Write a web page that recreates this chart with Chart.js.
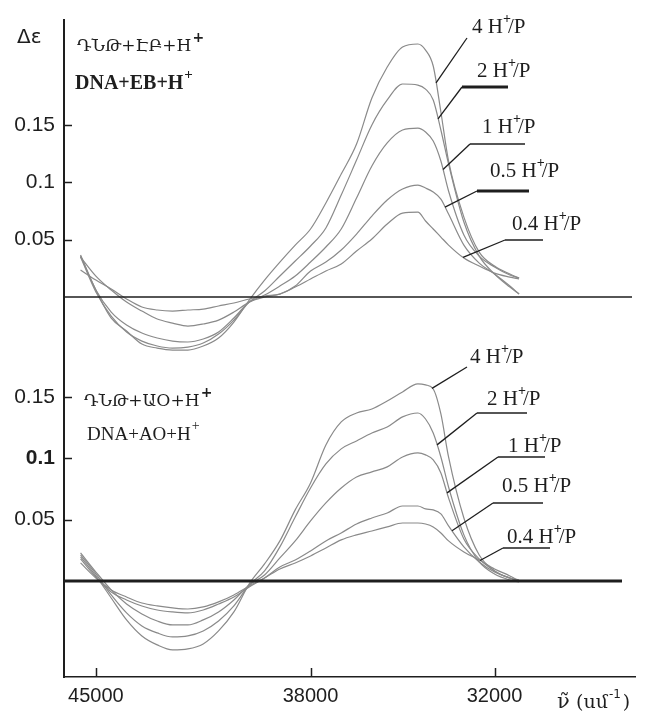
<!DOCTYPE html>
<html>
<head>
<meta charset="utf-8">
<script src="https://cdn.jsdelivr.net/npm/chart.js@4.4.1/dist/chart.umd.min.js"></script>
<style>
  body { margin: 0; background: #fff; }
  #wrap { position: relative; width: 656px; height: 713px; background: #fff; }
  canvas { position: absolute; left: 0; }
  #ebChart { top: 0; }
  #aoChart { top: 330px; }
</style>
</head>
<body>
<div id="wrap">
  <canvas id="ebChart" width="656" height="370"></canvas>
  <canvas id="aoChart" width="656" height="383"></canvas>
</div>
<script>
// wavenumber grid, cm^-1
var wavenumbers = [45500, 45000, 44500, 44000, 43500, 43000, 42500, 42000, 41500, 41000, 40500, 40000,
  39500, 39000, 38500, 38000, 37500, 37000, 36500, 36000, 35500, 35000, 34500, 34250, 34000, 33750,
  33500, 33000, 32500, 32000, 31500, 31200];

// DNA + EB + H+, delta epsilon for each H+/P ratio
var ebH4 = [0.0366, 0.0061, -0.0183, -0.0296, -0.0410, -0.0445, -0.0462, -0.0462, -0.0427, -0.0357, -0.0218, -0.0026,
  0.0148, 0.0305, 0.0453, 0.0593, 0.0820, 0.1072, 0.1334, 0.1735, 0.2005, 0.2180, 0.2206, 0.2153, 0.2014, 0.1613,
  0.1186, 0.0697, 0.0392, 0.0270, 0.0201, 0.0166];
var ebH2 = [0.0349, 0.0044, -0.0166, -0.0305, -0.0384, -0.0427, -0.0445, -0.0436, -0.0401, -0.0323, -0.0201, -0.0044,
  0.0052, 0.0183, 0.0314, 0.0445, 0.0602, 0.0889, 0.1194, 0.1500, 0.1718, 0.1857, 0.1848, 0.1813, 0.1718, 0.1456,
  0.1160, 0.0654, 0.0357, 0.0201, 0.0087, 0.0026];
var ebH1 = [0.0357, 0.0061, -0.0131, -0.0244, -0.0314, -0.0357, -0.0384, -0.0392, -0.0366, -0.0305, -0.0183, -0.0044,
  0.0017, 0.0096, 0.0183, 0.0305, 0.0436, 0.0593, 0.0863, 0.1142, 0.1343, 0.1456, 0.1473, 0.1439, 0.1360, 0.1186,
  0.0924, 0.0541, 0.0357, 0.0262, 0.0192, 0.0166];
var ebH05 = [0.0349, 0.0183, 0.0061, -0.0044, -0.0122, -0.0192, -0.0227, -0.0253, -0.0235, -0.0201, -0.0131, -0.0044,
  0.0000, 0.0026, 0.0096, 0.0227, 0.0305, 0.0410, 0.0549, 0.0706, 0.0846, 0.0942, 0.0976, 0.0950, 0.0915, 0.0854,
  0.0724, 0.0453, 0.0296, 0.0201, 0.0096, 0.0026];
var ebH04 = [0.0235, 0.0148, 0.0070, -0.0017, -0.0087, -0.0113, -0.0122, -0.0113, -0.0105, -0.0078, -0.0052, -0.0017,
  0.0009, 0.0026, 0.0087, 0.0157, 0.0227, 0.0288, 0.0401, 0.0506, 0.0636, 0.0732, 0.0741, 0.0663, 0.0593, 0.0523,
  0.0453, 0.0340, 0.0270, 0.0209, 0.0174, 0.0157];

// DNA + AO + H+
var aoH4 = [0.0196, 0.0041, -0.0139, -0.0318, -0.0449, -0.0522, -0.0563, -0.0555, -0.0514, -0.0408, -0.0253, -0.0024,
  0.0139, 0.0327, 0.0580, 0.0800, 0.1110, 0.1298, 0.1371, 0.1404, 0.1469, 0.1543, 0.1608, 0.1600, 0.1567, 0.1363,
  0.1012, 0.0514, 0.0212, 0.0082, 0.0024, 0.0008];
var aoH2 = [0.0212, 0.0057, -0.0114, -0.0261, -0.0367, -0.0424, -0.0457, -0.0449, -0.0408, -0.0327, -0.0204, -0.0033,
  0.0082, 0.0278, 0.0522, 0.0759, 0.0955, 0.1078, 0.1143, 0.1208, 0.1257, 0.1339, 0.1371, 0.1322, 0.1208, 0.1012,
  0.0767, 0.0376, 0.0155, 0.0057, 0.0008, -0.0008];
var aoH1 = [0.0229, 0.0073, -0.0073, -0.0188, -0.0269, -0.0327, -0.0359, -0.0359, -0.0318, -0.0253, -0.0155, -0.0033,
  0.0049, 0.0188, 0.0327, 0.0490, 0.0637, 0.0759, 0.0849, 0.0890, 0.0931, 0.1012, 0.1045, 0.1029, 0.0988, 0.0882,
  0.0678, 0.0343, 0.0180, 0.0082, 0.0024, 0.0000];
var aoH05 = [0.0180, 0.0033, -0.0090, -0.0155, -0.0204, -0.0237, -0.0253, -0.0261, -0.0237, -0.0188, -0.0131, -0.0049,
  0.0024, 0.0114, 0.0171, 0.0245, 0.0327, 0.0392, 0.0465, 0.0514, 0.0555, 0.0612, 0.0612, 0.0588, 0.0580, 0.0547,
  0.0449, 0.0278, 0.0155, 0.0073, 0.0024, 0.0000];
var aoH04 = [0.0147, 0.0024, -0.0073, -0.0131, -0.0180, -0.0204, -0.0220, -0.0229, -0.0212, -0.0171, -0.0114, -0.0041,
  0.0024, 0.0098, 0.0147, 0.0204, 0.0269, 0.0335, 0.0376, 0.0408, 0.0441, 0.0473, 0.0473, 0.0465, 0.0441, 0.0392,
  0.0327, 0.0237, 0.0171, 0.0098, 0.0041, 0.0000];

var ratios = ['4', '2', '1', '0.5', '0.4'];
var yTicks = [0.05, 0.1, 0.15];
var xTicks = [45000, 38000, 32000];

var INK = '#1e1e1e';
var CURVE = '#8a8a8a';

function toPoints(values) {
  return values.map(function (v, i) { return { x: wavenumbers[i], y: v }; });
}

// linear lookup of a series at a given wavenumber (grid is descending)
function valueAt(values, w) {
  for (var i = 0; i < wavenumbers.length - 1; i++) {
    var a = wavenumbers[i], b = wavenumbers[i + 1];
    if (w <= a && w >= b) {
      var t = (a - w) / (a - b);
      return values[i] + t * (values[i + 1] - values[i]);
    }
  }
  return values[values.length - 1];
}

// "4 H+/P" with raised plus
function drawRatio(ctx, x, y, num) {
  ctx.font = '21px "Liberation Serif"';
  ctx.fillText(num, x, y);
  var hx = x + ctx.measureText(num + ' ').width;
  ctx.fillText('H', hx, y);
  var hw = ctx.measureText('H').width;
  ctx.font = 'bold 14px "Liberation Serif"';
  ctx.fillText('+', hx + hw, y - 10);
  ctx.font = '21px "Liberation Serif"';
  ctx.fillText('/P', hx + hw + 5, y);
}

function drawWithSup(ctx, x, y, text, font, sup, supFont, rise) {
  ctx.font = font;
  ctx.fillText(text, x, y);
  var w = ctx.measureText(text).width;
  ctx.font = supFont;
  ctx.fillText(sup, x + w + 1, y - rise);
}

function decorPlugin(cfg) {
  return {
    id: 'panelDecor',
    afterDatasetsDraw: function (chart) {
      var ctx = chart.ctx, xs = chart.scales.x, ys = chart.scales.y, area = chart.chartArea;
      ctx.save();
      ctx.strokeStyle = INK;
      ctx.fillStyle = INK;
      ctx.lineCap = 'butt';

      // zero line
      var y0 = ys.getPixelForValue(0);
      ctx.lineWidth = cfg.zeroWidth;
      ctx.beginPath();
      ctx.moveTo(area.left, y0);
      ctx.lineTo(area.right - cfg.zeroShort, y0);
      ctx.stroke();

      // y tick marks pointing into the plot
      ctx.lineWidth = 1.5;
      yTicks.forEach(function (v) {
        var py = Math.round(ys.getPixelForValue(v)) + 0.5;
        ctx.beginPath();
        ctx.moveTo(area.left, py);
        ctx.lineTo(area.left + 8, py);
        ctx.stroke();
      });

      if (cfg.xMarks) {
        xTicks.forEach(function (v) {
          var px = Math.round(xs.getPixelForValue(v)) + 0.5;
          ctx.beginPath();
          ctx.moveTo(px, area.bottom);
          ctx.lineTo(px, area.bottom - 9);
          ctx.stroke();
        });
      }

      // leader lines and ratio labels
      ctx.textAlign = 'left';
      ctx.textBaseline = 'alphabetic';
      cfg.notes.forEach(function (n) {
        var series = cfg.series[n.series];
        var ax = xs.getPixelForValue(n.at);
        var ay = ys.getPixelForValue(valueAt(series, n.at));
        ctx.lineWidth = 1.3;
        ctx.beginPath();
        ctx.moveTo(ax, ay);
        ctx.lineTo(n.to[0], n.to[1]);
        ctx.stroke();
        if (n.under) {
          ctx.lineWidth = n.under[2];
          ctx.beginPath();
          ctx.moveTo(n.under[0], n.to[1]);
          ctx.lineTo(n.under[1], n.to[1]);
          ctx.stroke();
        }
        drawRatio(ctx, n.text[0], n.text[1], ratios[n.series]);
      });

      cfg.extra(ctx);
      ctx.restore();
    }
  };
}

function makePanel(id, series, yMin, yMax, padTop, showX, tickFont, decor) {
  var datasets = series.map(function (vals, i) {
    return {
      label: ratios[i] + ' H+/P',
      data: toPoints(vals),
      borderColor: CURVE,
      borderWidth: 1.2,
      pointRadius: 0,
      fill: false,
      cubicInterpolationMode: 'monotone'
    };
  });
  return new Chart(document.getElementById(id), {
    type: 'line',
    data: { datasets: datasets },
    options: {
      responsive: false,
      animation: false,
      devicePixelRatio: 1,
      layout: { padding: { top: padTop, right: 21, left: 0, bottom: 0 } },
      plugins: { legend: { display: false }, tooltip: { enabled: false } },
      scales: {
        x: {
          type: 'linear',
          min: 27420,
          max: 46040,
          reverse: true,
          display: showX,
          afterFit: function (s) { if (showX) s.height = 36; },
          afterBuildTicks: function (s) { s.ticks = xTicks.map(function (v) { return { value: v }; }); },
          grid: { display: false, drawTicks: false },
          border: { display: true, color: INK, width: 1.5 },
          ticks: {
            padding: 7, autoSkip: false, maxRotation: 0, color: INK,
            font: { family: 'Liberation Sans', size: 20 },
            callback: function (v) { return String(v); }
          }
        },
        y: {
          type: 'linear',
          min: yMin,
          max: yMax,
          afterFit: function (s) {
            // labels never sit at the ends of the axis, so no overhang room is needed
            s.width = 64;
            s.paddingTop = 0;
            s.paddingBottom = 0;
          },
          afterBuildTicks: function (s) { s.ticks = yTicks.map(function (v) { return { value: v }; }); },
          grid: { display: false, drawTicks: false },
          border: { display: true, color: INK, width: 2 },
          ticks: {
            padding: 9, color: INK, font: tickFont,
            callback: function (v) { return String(v); }
          }
        }
      }
    },
    plugins: [decor]
  });
}

var ebSeries = [ebH4, ebH2, ebH1, ebH05, ebH04];
var aoSeries = [aoH4, aoH2, aoH1, aoH05, aoH04];

makePanel('ebChart', ebSeries, -0.0636, 0.2415, 20, false,
  { family: 'Liberation Sans', size: 21 },
  decorPlugin({
    series: ebSeries,
    zeroWidth: 1.6,
    zeroShort: 3,
    xMarks: false,
    notes: [
      { series: 0, at: 33908, to: [467, 38], text: [472, 33] },
      { series: 1, at: 33843, to: [462, 87], under: [462, 508, 3], text: [477, 77] },
      { series: 2, at: 33680, to: [470, 144], under: [470, 525, 1.5], text: [482, 133] },
      { series: 3, at: 33615, to: [477, 191], under: [477, 529, 3], text: [490, 177] },
      { series: 4, at: 33028, to: [505, 240], under: [505, 543, 1.5], text: [512, 230] }
    ],
    extra: function (ctx) {
      ctx.font = '20px "DejaVu Sans"';
      ctx.fillText('Δε', 17, 43);
      drawWithSup(ctx, 77, 51, 'ԴՆԹ+ԷԲ+H', '17px "DejaVu Serif"', '+', 'bold 14px "DejaVu Sans"', 9);
      drawWithSup(ctx, 75, 89, 'DNA+EB+H', 'bold 20px "Liberation Serif"', '+', 'bold 15px "Liberation Serif"', 10);
    }
  }));

makePanel('aoChart', aoSeries, -0.0784, 0.1722, 40, true,
  function (c) {
    var bold = c.tick && c.tick.value === 0.1;
    return { family: 'Liberation Sans', size: 21, weight: bold ? 'bold' : 'normal' };
  },
  decorPlugin({
    series: aoSeries,
    zeroWidth: 3,
    zeroShort: 13,
    xMarks: true,
    notes: [
      { series: 0, at: 34040, to: [467, 37], text: [470, 33] },
      { series: 1, at: 33876, to: [477, 83], under: [477, 527, 1.5], text: [487, 75] },
      { series: 2, at: 33550, to: [498, 127], under: [498, 545, 1.5], text: [508, 122] },
      { series: 3, at: 33387, to: [493, 173], under: [493, 543, 1.5], text: [502, 162] },
      { series: 4, at: 32474, to: [503, 218], under: [503, 550, 1.5], text: [507, 213] }
    ],
    extra: function (ctx) {
      drawWithSup(ctx, 84, 76, 'ԴՆԹ+ԱՕ+H', '17px "DejaVu Serif"', '+', 'bold 14px "DejaVu Sans"', 9);
      drawWithSup(ctx, 87, 110, 'DNA+AO+H', '19px "Liberation Serif"', '+', '14px "Liberation Serif"', 10);
      // axis title: wavenumber, cm^-1
      ctx.font = '21px "DejaVu Serif"';
      ctx.fillText('ν̃', 557, 378);
      ctx.font = '19px "DejaVu Serif"';
      ctx.fillText('(սմ', 576, 378);
      var w = ctx.measureText('(սմ').width;
      ctx.font = '12px "DejaVu Sans"';
      ctx.fillText('-1', 577 + w, 368);
      var w2 = ctx.measureText('-1').width;
      ctx.font = '19px "DejaVu Serif"';
      ctx.fillText(')', 579 + w + w2, 378);
    }
  }));
</script>
</body>
</html>
